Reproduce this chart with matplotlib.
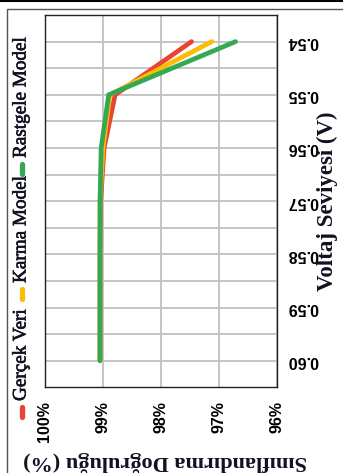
import matplotlib
matplotlib.use("Agg")
import matplotlib.pyplot as plt
import matplotlib.patheffects as pe
from matplotlib.lines import Line2D
from matplotlib.patches import Rectangle

# veriler
voltaj = [0.54, 0.55, 0.56, 0.57, 0.58, 0.59, 0.60]
gercek_veri = [97.47, 98.79, 98.98, 99.04, 99.05, 99.05, 99.05]
karma_model = [97.12, 98.88, 99.00, 99.05, 99.05, 99.05, 99.05]
rastgele_model = [96.71, 98.90, 99.03, 99.05, 99.05, 99.05, 99.05]

seri_adlari = ["Gerçek Veri", "Karma Model", "Rastgele Model"]
renkler = ["#EA4335", "#FBBC04", "#34A853"]
dogruluk_ticks = [100, 99, 98, 97, 96]

W, H = 343, 473


def px(x, y):
    return x / W, 1 - y / H


fig = plt.figure(figsize=(W / 100, H / 100), dpi=100)
ax = fig.add_axes([45 / W, 1 - 387.3 / H, 231.7 / W, 372.3 / H])

for seri, renk in zip([gercek_veri, karma_model, rastgele_model], renkler):
    ax.plot(seri, voltaj, color=renk, lw=3.4, solid_capstyle="round",
            solid_joinstyle="miter", zorder=3)

ax.set_xlim(100, 96)
ax.set_ylim(0.605, 0.535)
ax.set_xticks(dogruluk_ticks)
ax.set_xticklabels([f"{t}%" for t in dogruluk_ticks], rotation=90,
                   family="Liberation Sans", fontweight="bold", fontsize=11.5)
ax.set_yticks(voltaj)
ax.set_yticks([v + 0.005 for v in voltaj[:-1]], minor=True)
ax.yaxis.tick_right()
ax.set_yticklabels([f"{v:.2f}" for v in voltaj], rotation=180, va="center",
                   family="Liberation Sans", fontweight="bold", fontsize=11.5)
ax.tick_params(axis="both", which="both", length=0)
ax.tick_params(axis="x", pad=10)
ax.tick_params(axis="y", pad=7.5)
ax.grid(which="both", color="#c0c0c0", lw=1.3)
ax.set_axisbelow(True)
for s in ax.spines.values():
    s.set_color("#222222")
    s.set_linewidth(1.0)

# eksen basliklari
fig.text(*px(327, 201), "Voltaj Seviyesi (V)", rotation=90, ha="center",
         va="center", family="Liberation Serif", fontweight="bold",
         fontsize=16.5, color="#111122")
fig.text(*px(165, 461), "Sınıflandırma Doğruluğu (%)", rotation=180,
         ha="center", va="center", family="Liberation Serif",
         fontweight="bold", fontsize=16, color="#111122")

# lejant (dikey)
lejant_y = [401, 283, 158]
for ad, renk, y0 in zip(seri_adlari, renkler, lejant_y):
    fig.add_artist(Line2D([21.5 / W, 21.5 / W], [1 - (y0 + 16) / H, 1 - (y0 + 6) / H],
                          transform=fig.transFigure, color=renk, lw=3.8,
                          solid_capstyle="round"))
    fig.text(*px(21, y0), ad, rotation=90, ha="center", va="bottom",
             family="Liberation Serif", fontsize=13.8, color="#111122",
             path_effects=[pe.withStroke(linewidth=0.45, foreground="#111122")])

# cerceve
fig.add_artist(Line2D([0, 1], [1 - 1 / H, 1 - 1 / H], transform=fig.transFigure,
                      color="black", lw=1.5))
fig.add_artist(Rectangle(px(7.3, 480), 400 / W, 471 / H,
                         transform=fig.transFigure, fill=False,
                         edgecolor="#555555", lw=1.0))

fig.savefig("out.png", dpi=100)
